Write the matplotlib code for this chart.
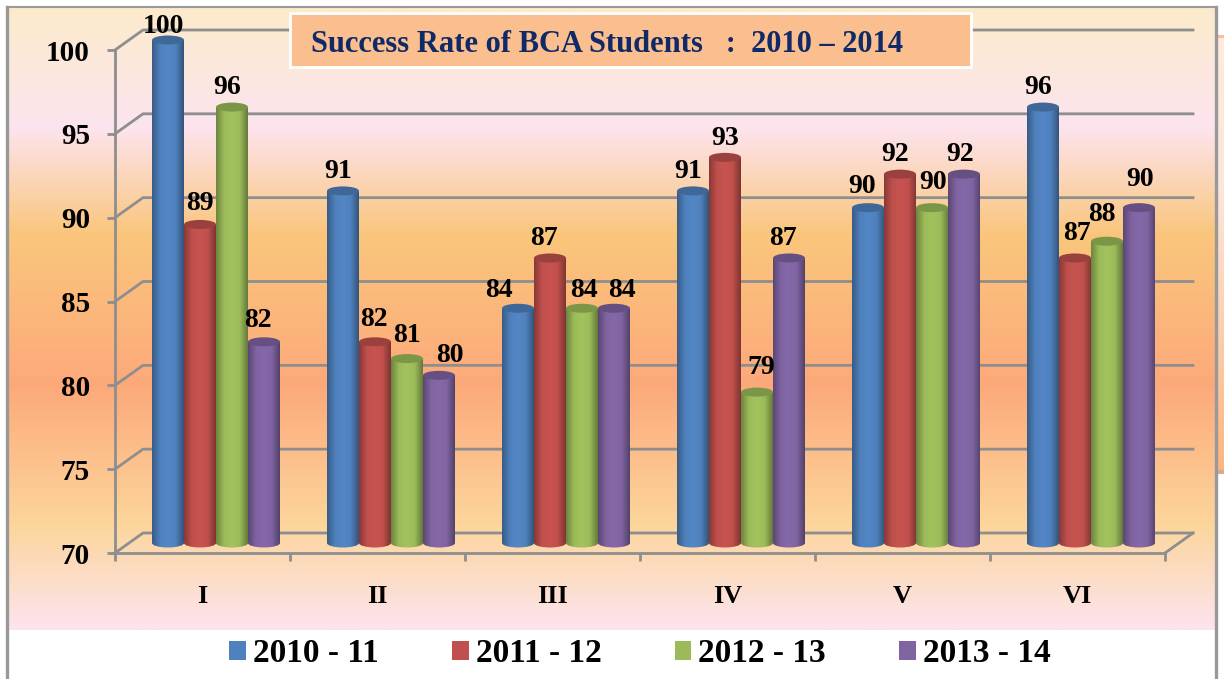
import numpy as np
import matplotlib.pyplot as plt
from matplotlib.colors import LinearSegmentedColormap, to_rgb
from matplotlib.patches import Ellipse, PathPatch, Patch, Rectangle
from matplotlib.path import Path

# Datos del grafico
semesters = ['I', 'II', 'III', 'IV', 'V', 'VI']
years = ['2010 - 11', '2011 - 12', '2012 - 13', '2013 - 14']
rate_2010 = [100, 91, 84, 91, 90, 96]
rate_2011 = [89, 82, 87, 93, 92, 87]
rate_2012 = [96, 81, 84, 79, 90, 88]
rate_2013 = [82, 80, 84, 87, 92, 90]
y_ticks = [70, 75, 80, 85, 90, 95, 100]
title = 'Success Rate of BCA Students   :  2010 \u2013 2014'

# Ajustes a mano de las etiquetas (pixeles desde el centro de la barra)
label_dx = [[-5, 0, -5, -6], [-5, -1, 0, 11], [-19, -6, 2, 8], [-5, 0, 4, -6], [-6, -5, 1, -4], [-5, 2, -5, 1]]
label_dy = [[14, 21, 20, 21], [19, 22, 23, 20], [18, 19, 18, 18], [19, 19, 25, 19], [21, 20, 25, 20], [20, 24, 27, 28]]

colors = ['#4F81BD', '#C0504D', '#9BBB59', '#8064A2']
grid_c = '#8E8E8E'
W, H = 1224, 679
FONT = 'Liberation Serif'

fig = plt.figure(figsize=(W / 100, H / 100), dpi=100, facecolor='white')

# Fondo en pixeles
bg = fig.add_axes([0, 0, 1, 1], zorder=0)
bg.axis('off')
stops = [(7, '#FBEBCB'), (125, '#FDE4EF'), (234, '#FAC67C'), (385, '#FDA97A'), (524, '#FCD59B'), (630, '#FDE4EE')]
span = stops[-1][0] - stops[0][0]
cmap_bg = LinearSegmentedColormap.from_list('bg', [((p - 7) / span, c) for p, c in stops])
grad = np.linspace(0, 1, 400).reshape(-1, 1)
bg.imshow(grad, cmap=cmap_bg, extent=[8, 1216, 630, 7], aspect='auto')

cmap_side = LinearSegmentedColormap.from_list('side', ['#FDEBDD', '#FDE6DC', '#FBD0B0', '#FDB57E'])
bg.imshow(grad, cmap=cmap_side, extent=[1217, W, 473, 37], aspect='auto')
bg.set_xlim(0, W)
bg.set_ylim(H, 0)
bg.add_patch(Rectangle((1217, 35), 7, 3, fc='#FBC08D', ec='none'))
bg.add_patch(Rectangle((1217, 470), 7, 4, fc='#D8A98C', ec='none'))
bg.plot([7, 7], [7, H], color='#999999', lw=2.4)
bg.plot([1216, 1216], [7, H], color='#999999', lw=2.4)
bg.plot([7, 1216], [7, 7], color='#999999', lw=1.5)

# Ejes: plano frontal del grafico
left, right, top, bottom = 115, 1165, 50, 553
ax = fig.add_axes([left / W, 1 - bottom / H, (right - left) / W, (bottom - top) / H], zorder=1)
ax.patch.set_alpha(0)
for s in ax.spines.values():
    s.set_visible(False)

px_x = len(semesters) / (right - left)
px_y = 30 / (bottom - top)
depth_x, depth_y = 28 * px_x, 20 * px_y

# Paredes y rejilla en perspectiva
for v in y_ticks:
    ax.plot([0, depth_x, 6 + depth_x], [v, v + depth_y, v + depth_y], color=grid_c, lw=2, clip_on=False, zorder=1)
ax.plot([6, 6 + depth_x], [70, 70 + depth_y], color=grid_c, lw=2, clip_on=False, zorder=1)
ax.plot([0, 0], [70, 100], color=grid_c, lw=2, clip_on=False, zorder=1)
ax.plot([0, 6], [70, 70], color=grid_c, lw=2, clip_on=False, zorder=1)

ax.set_yticks(y_ticks)
ax.set_xticks(np.arange(len(semesters) + 1))
ax.set_xticklabels([])
ax.tick_params(axis='x', length=6, width=2, color=grid_c, pad=0)
ax.tick_params(axis='y', length=6, width=2, color=grid_c, pad=12)
for lab in ax.get_yticklabels():
    lab.set_fontsize(21)
    lab.set_fontweight('bold')
    lab.set_fontfamily(FONT)
for i, s in enumerate(semesters):
    ax.text(i + 0.5, 70 - 43 * px_y, s, ha='center', va='center', fontsize=19, fontweight='bold', family=FONT)


def shaded(color):
    c = np.array(to_rgb(color))
    dark = c * 0.72
    light = np.minimum(c * 1.04, 1)
    return LinearSegmentedColormap.from_list('cyl', [dark, c, light, c, dark * 0.92])


# Barras cilindricas
bar_w = 32 * px_x
ell_h = 4.5 * px_y
lift = 10 * px_y
series = [rate_2010, rate_2011, rate_2012, rate_2013]
for j, vals in enumerate(series):
    for i, v in enumerate(vals):
        x0 = i + 37 * px_x + j * bar_w
        base, head = 70 + lift, v + lift
        z = 3 + i * 10 + j
        k = 0.5523
        a, b = bar_w / 2, ell_h
        xc = x0 + a
        verts = [(x0, head), (x0, base), (x0, base - k * b), (xc - k * a, base - b), (xc, base - b),
                 (xc + k * a, base - b), (x0 + bar_w, base - k * b), (x0 + bar_w, base), (x0 + bar_w, head), (x0, head)]
        codes = [Path.MOVETO, Path.LINETO, Path.CURVE4, Path.CURVE4, Path.CURVE4,
                 Path.CURVE4, Path.CURVE4, Path.CURVE4, Path.LINETO, Path.CLOSEPOLY]
        clip = PathPatch(Path(verts, codes), fc='none', ec='none', transform=ax.transData)
        ax.add_patch(clip)
        im = ax.imshow(np.linspace(0, 1, 40).reshape(1, -1), cmap=shaded(colors[j]),
                       extent=[x0, x0 + bar_w, base - b, head], aspect='auto', zorder=z)
        im.set_clip_box(fig.bbox)
        im.set_clip_path(clip)
        ax.add_patch(Ellipse((xc, head), bar_w, 2 * ell_h, fc=np.array(to_rgb(colors[j])) * 0.8, ec='none',
                             zorder=z + 0.1, clip_on=False))
        ax.annotate(str(v), (xc, head), xytext=(label_dx[i][j], label_dy[i][j]), textcoords='offset pixels',
                    ha='center', va='center', fontsize=20, fontweight='bold', family=FONT, zorder=200, annotation_clip=False)
ax.set_xlim(0, len(semesters))
ax.set_ylim(70, 100)

# Titulo
bg2 = fig.add_axes([0, 0, 1, 1], zorder=2)
bg2.set_xlim(0, W)
bg2.set_ylim(H, 0)
bg2.axis('off')
bg2.add_patch(Rectangle((290, 13), 681, 54, fc='#FBBF8F', ec='white', lw=2))
bg2.text(311, 44, title, ha='left', va='center', fontsize=22, fontweight='bold', color='#0F2A66', family=FONT)

# Leyenda
handles = [Patch(fc=c, ec='none') for c in colors]
fig.legend(handles, years, loc='center', bbox_to_anchor=(640 / W, 1 - 654 / H), ncol=4, frameon=False,
           prop={'family': FONT, 'weight': 'bold', 'size': 24}, handlelength=0.5, handleheight=0.5,
           handletextpad=0.21, columnspacing=2.2)

fig.savefig('out.png', dpi=100)
